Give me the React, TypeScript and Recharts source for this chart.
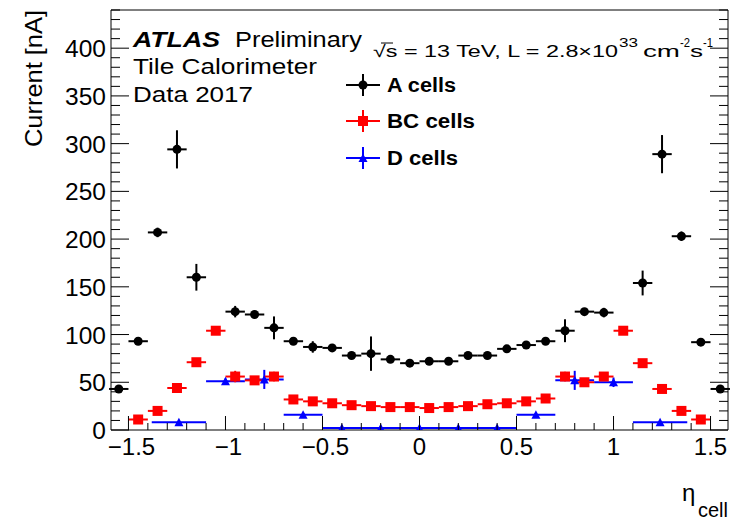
import { ErrorBar, Scatter, ScatterChart, XAxis, YAxis } from "recharts";

// A cells
const etaA = [-1.55, -1.45, -1.35, -1.25, -1.15, -0.95, -0.85, -0.75, -0.65, -0.55, -0.45, -0.35, -0.25, -0.15, -0.05,
  0.05, 0.15, 0.25, 0.35, 0.45, 0.55, 0.65, 0.75, 0.85, 0.95, 1.15, 1.25, 1.35, 1.45, 1.55];
const currentA = [43, 93, 207, 294, 160, 124, 121, 107, 93, 87, 86, 78, 80, 74, 70,
  72, 72, 78, 78, 85, 89, 93, 104, 124, 123, 154, 289, 203, 92, 43];
const errA = [2, 2, 5, 20, 14, 6, 3, 12, 3, 6, 2, 3, 18, 3, 3,
  2, 3, 3, 2, 2, 2, 3, 12, 2, 5, 13, 20, 5, 2, 2];

// BC cells
const etaBC = [-1.45, -1.35, -1.25, -1.15, -1.05, -0.95, -0.85, -0.75, -0.65, -0.55, -0.45, -0.35, -0.25, -0.15, -0.05,
  0.05, 0.15, 0.25, 0.35, 0.45, 0.55, 0.65, 0.75, 0.85, 0.95, 1.05, 1.15, 1.25, 1.35, 1.45];
const currentBC = [11, 20, 44, 71, 104, 56, 52, 56, 32, 30, 28, 26, 25, 24, 24,
  23, 24, 25, 27, 28, 30, 33, 56, 50, 56, 104, 70, 43, 20, 11];
const errBC = [2, 2, 2, 4, 3, 6, 4, 5, 2, 2, 2, 2, 2, 2, 2,
  2, 2, 2, 2, 2, 2, 2, 5, 3, 3, 3, 2, 2, 2, 2];

// D cells
const etaD = [-1.24, -1.0, -0.8, -0.6, -0.4, -0.2, 0, 0.2, 0.4, 0.6, 0.8, 1.0, 1.24];
const currentD = [8, 51, 53, 16, 2, 2, 2, 2, 2, 16, 52, 50, 8];
const errD = [1, 3, 10, 2, 1, 1, 1, 1, 1, 2, 10, 5, 1];
const halfWidthD = [0.14, 0.1, 0.1, 0.1, 0.1, 0.1, 0.1, 0.1, 0.1, 0.1, 0.1, 0.1, 0.14];

const HALF_WIDTH = 0.05;

const xMajor = [-1.5, -1, -0.5, 0, 0.5, 1, 1.5];
const xLabels = ["\u22121.5", "\u22121", "\u22120.5", "0", "0.5", "1", "1.5"];
const yMajor = [0, 50, 100, 150, 200, 250, 300, 350, 400];
const yLabels = ["0", "50", "100", "150", "200", "250", "300", "350", "400"];

const X_DOMAIN: [number, number] = [-1.59, 1.59];
const Y_DOMAIN: [number, number] = [0, 440];

const xTicks: number[] = [];
for (let i = -15; i <= 15; i++) xTicks.push(i / 10);
const yTicks: number[] = [];
for (let v = 0; v <= 440; v += 10) yTicks.push(v);

const FONT = "'Liberation Sans', Arial, Helvetica, sans-serif";

const rowsA = etaA.map((eta, i) => ({ eta, cur: currentA[i], ey: errA[i], ex: HALF_WIDTH }));
const rowsBC = etaBC.map((eta, i) => ({ eta, cur: currentBC[i], ey: errBC[i], ex: HALF_WIDTH }));
const rowsD = etaD.map((eta, i) => ({ eta, cur: currentD[i], ey: errD[i], ex: halfWidthD[i] }));

const idx = (arr: number[], v: number) => arr.findIndex((m) => Math.abs(m - v) < 1e-6);

function BottomTick({ x, y, payload }: any) {
  const i = idx(xMajor, payload.value);
  return (
    <g>
      <line x1={x} x2={x} y1={y} y2={y - (i >= 0 ? 14 : 7)} stroke="#000" />
      {i >= 0 && (
        <text x={x + (xMajor[i] < 0 ? 3 : 0)} y={y + 25} textAnchor="middle" fontSize={24} fontFamily={FONT} fill="#000">
          {xLabels[i]}
        </text>
      )}
    </g>
  );
}

function TopTick({ x, y, payload }: any) {
  const major = idx(xMajor, payload.value) >= 0;
  return <line x1={x} x2={x} y1={y} y2={y + (major ? 14 : 7)} stroke="#000" />;
}

function LeftTick({ x, y, payload }: any) {
  const i = idx(yMajor, payload.value);
  return (
    <g>
      <line x1={x} x2={x + (i >= 0 ? 18 : 9)} y1={y} y2={y} stroke="#000" />
      {i >= 0 && (
        <text x={x - 5} y={y + 9} textAnchor="end" fontSize={24.5} fontFamily={FONT} fill="#000">
          {yLabels[i]}
        </text>
      )}
    </g>
  );
}

function RightTick({ x, y, payload }: any) {
  const major = idx(yMajor, payload.value) >= 0;
  return <line x1={x} x2={x - (major ? 18 : 9)} y1={y} y2={y} stroke="#000" />;
}

const Dot = (p: any) => <circle cx={p.cx} cy={p.cy} r={4.5} fill="#000" />;
const Square = (p: any) => <rect x={p.cx - 5} y={p.cy - 5} width={10} height={10} fill="#ff0000" />;
const Triangle = (p: any) => (
  <path d={`M${p.cx - 4.5},${p.cy + 4} L${p.cx + 4.5},${p.cy + 4} L${p.cx},${p.cy - 4.5} Z`} fill="#0000ff" />
);

function LegendRow({ y, color, marker, label, len }: { y: number; color: string; marker: string; label: string; len: number }) {
  const cx = 363;
  return (
    <g>
      <line x1={346} x2={380} y1={y} y2={y} stroke={color} strokeWidth={2} />
      <line x1={cx} x2={cx} y1={y - 11} y2={y + 11} stroke={color} strokeWidth={2} />
      {marker === "circle" && <circle cx={cx} cy={y} r={4.5} fill={color} />}
      {marker === "square" && <rect x={cx - 5} y={y - 5} width={10} height={10} fill={color} />}
      {marker === "triangle" && (
        <path d={`M${cx - 4.5},${y + 4} L${cx + 4.5},${y + 4} L${cx},${y - 4.5} Z`} fill={color} />
      )}
      <text x={387} y={y + 7} fontSize={20} fontWeight="bold" fontFamily={FONT} fill="#000"
        textLength={len} lengthAdjust="spacingAndGlyphs">
        {label}
      </text>
    </g>
  );
}

const stretch = (w: number) => ({ textLength: w, lengthAdjust: "spacingAndGlyphs" as const });

export default function App() {
  return (
    <div style={{ position: "absolute", left: 0, top: 0, width: 731, height: 523, background: "#fff" }}>
      <ScatterChart width={731} height={523} margin={{ top: 0, right: 0, bottom: 53, left: 51 }}>
        <XAxis
          xAxisId="b"
          dataKey="eta"
          type="number"
          domain={X_DOMAIN}
          allowDataOverflow
          ticks={xTicks}
          interval={0}
          tick={<BottomTick />}
          tickLine={false}
          tickSize={0}
          tickMargin={0}
          height={40}
          axisLine={{ stroke: "#000" }}
        />
        <XAxis
          xAxisId="t"
          orientation="top"
          type="number"
          domain={X_DOMAIN}
          allowDataOverflow
          ticks={xTicks}
          interval={0}
          tick={<TopTick />}
          tickLine={false}
          tickSize={0}
          tickMargin={0}
          height={10}
          axisLine={{ stroke: "#000" }}
        />
        <YAxis
          yAxisId="l"
          dataKey="cur"
          type="number"
          domain={Y_DOMAIN}
          allowDataOverflow
          ticks={yTicks}
          interval={0}
          tick={<LeftTick />}
          tickLine={false}
          tickSize={0}
          tickMargin={0}
          width={60}
          axisLine={{ stroke: "#000" }}
        />
        <YAxis
          yAxisId="r"
          orientation="right"
          type="number"
          domain={Y_DOMAIN}
          allowDataOverflow
          ticks={yTicks}
          interval={0}
          tick={<RightTick />}
          tickLine={false}
          tickSize={0}
          tickMargin={0}
          width={3}
          axisLine={{ stroke: "#000" }}
        />
        <Scatter xAxisId="b" yAxisId="l" data={rowsD} dataKey="cur" shape={Triangle} isAnimationActive={false}>
          <ErrorBar dataKey="ex" direction="x" width={0} stroke="#0000ff" strokeWidth={2} isAnimationActive={false} />
          <ErrorBar dataKey="ey" direction="y" width={0} stroke="#0000ff" strokeWidth={2} isAnimationActive={false} />
        </Scatter>
        <Scatter xAxisId="b" yAxisId="l" data={rowsBC} dataKey="cur" shape={Square} isAnimationActive={false}>
          <ErrorBar dataKey="ex" direction="x" width={0} stroke="#ff0000" strokeWidth={2} isAnimationActive={false} />
          <ErrorBar dataKey="ey" direction="y" width={0} stroke="#ff0000" strokeWidth={2} isAnimationActive={false} />
        </Scatter>
        <Scatter xAxisId="b" yAxisId="l" data={rowsA} dataKey="cur" shape={Dot} isAnimationActive={false}>
          <ErrorBar dataKey="ex" direction="x" width={0} stroke="#000" strokeWidth={2} isAnimationActive={false} />
          <ErrorBar dataKey="ey" direction="y" width={0} stroke="#000" strokeWidth={2} isAnimationActive={false} />
        </Scatter>
      </ScatterChart>

      <svg width={731} height={523} style={{ position: "absolute", left: 0, top: 0, pointerEvents: "none" }}>
        <text transform="translate(42,10) rotate(-90)" textAnchor="end" fontSize={24} fontFamily={FONT} fill="#000"
          {...stretch(137)}>
          Current [nA]
        </text>
        <text x={682} y={501} fontSize={24} fontFamily={FONT} fill="#000">η</text>
        <text x={698} y={517} fontSize={20} fontFamily={FONT} fill="#000" {...stretch(30)}>cell</text>

        <text x={133} y={47} fontSize={22} fontWeight="bold" fontStyle="italic" fontFamily={FONT} fill="#000" {...stretch(87)}>
          ATLAS
        </text>
        <text x={235} y={47} fontSize={22} fontFamily={FONT} fill="#000" {...stretch(127)}>Preliminary</text>
        <text x={133} y={74} fontSize={22} fontFamily={FONT} fill="#000" {...stretch(184)}>Tile Calorimeter</text>
        <text x={133} y={102} fontSize={22} fontFamily={FONT} fill="#000" {...stretch(120)}>Data 2017</text>

        <g fontFamily={FONT} fill="#000">
          <line x1={381} x2={393} y1={43} y2={43} stroke="#000" strokeWidth={1} />
          <text x={373} y={57} fontSize={17} {...stretch(245)}>√s = 13 TeV, L = 2.8×10</text>
          <text x={619} y={47} fontSize={12} {...stretch(19)}>33</text>
          <text x={643} y={57} fontSize={17} {...stretch(37)}>cm</text>
          <text x={680} y={47} fontSize={12} {...stretch(10)}>-2</text>
          <text x={690} y={57} fontSize={17} {...stretch(13)}>s</text>
          <text x={703} y={47} fontSize={12} {...stretch(10)}>-1</text>
        </g>

        <LegendRow y={85} color="#000" marker="circle" label="A cells" len={69} />
        <LegendRow y={121} color="#ff0000" marker="square" label="BC cells" len={88} />
        <LegendRow y={158} color="#0000ff" marker="triangle" label="D cells" len={71} />
      </svg>
    </div>
  );
}
